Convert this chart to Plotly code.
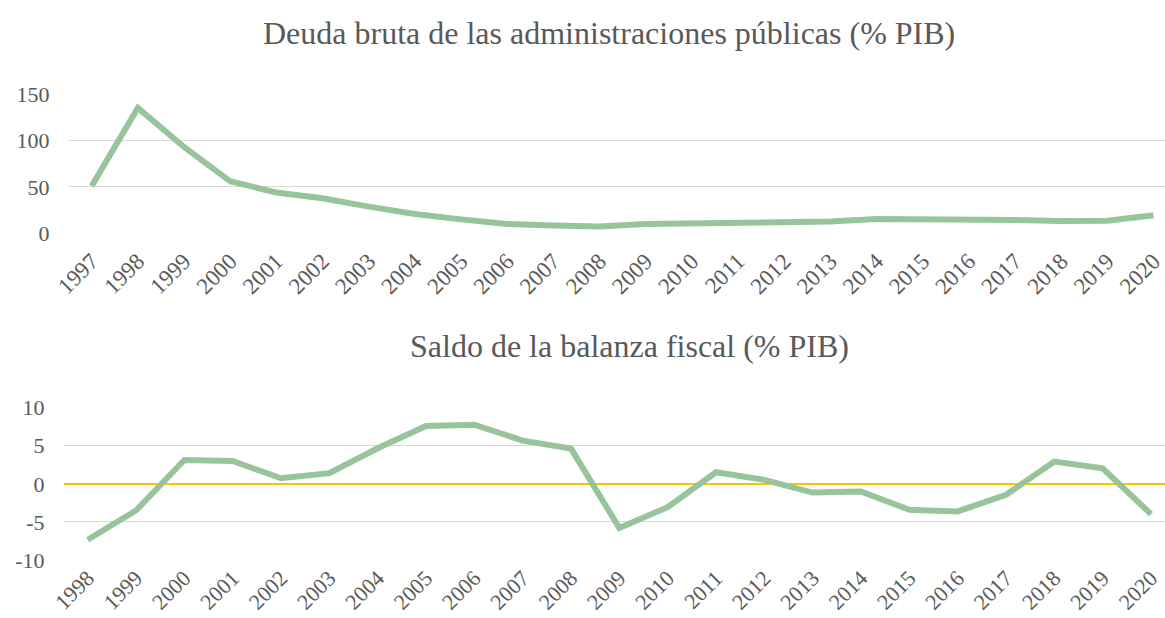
import plotly.graph_objects as go

years_debt = [str(y) for y in range(1997, 2021)]
debt = [51, 135, 93, 56, 44, 37.7, 28.7, 20.8, 15, 10, 8.3, 7.2,
        10, 10.4, 10.8, 11.5, 12.6, 15.4, 15.4, 15, 14.4, 13.3, 13.6, 19.4]

years_bal = [str(y) for y in range(1998, 2021)]
balance = [-7.34, -3.5, 3.14, 3.0, 0.74, 1.4, 4.67, 7.6, 7.77, 5.68, 4.63,
           -5.8, -3.06, 1.53, 0.52, -1.14, -1.0, -3.4, -3.62, -1.44, 2.93, 2.05, -3.97]

debt_ticks = [0, 50, 100, 150]
bal_ticks = [-10, -5, 0, 5, 10]
bal_ticktext = ["-10", "-5", "0", "5", "10"]

title_top = "Deuda bruta de las administraciones públicas (% PIB)"
title_bot = "Saldo de la balanza fiscal (% PIB)"

W, H = 1165, 618
FONT = "'Liberation Serif', 'Times New Roman', 'DejaVu Serif', serif"
TXT = "#595959"
GRID = "#d9d9d9"
LINE = "#98C49C"

def px_x(v):
    return v / W

def px_y(v):
    return 1 - v / H

fig = go.Figure()
fig.add_trace(go.Scatter(x=years_debt, y=debt, mode="lines",
                         line=dict(color=LINE, width=6), xaxis="x", yaxis="y",
                         showlegend=False, hoverinfo="x+y"))
fig.add_trace(go.Scatter(x=years_bal, y=balance, mode="lines",
                         line=dict(color=LINE, width=6), xaxis="x2", yaxis="y2",
                         showlegend=False, hoverinfo="x+y"))

ytickfont = dict(family=FONT, size=22, color=TXT)
xtickfont = dict(family=FONT, size=23, color=TXT)
xtickfont2 = dict(family=FONT, size=22, color=TXT)

fig.update_layout(
    template="none",
    width=W, height=H, autosize=False,
    margin=dict(l=0, r=0, t=0, b=0, pad=0),
    paper_bgcolor="white", plot_bgcolor="white",
    font=dict(family=FONT, color=TXT),
    xaxis=dict(type="category", domain=[px_x(68.6), 1], anchor="y",
               range=[-0.5, 23.25], tickangle=-45, tickfont=xtickfont,
               showgrid=False, showline=False, ticks="", zeroline=False,
               ticklabelstandoff=9, automargin=False),
    yaxis=dict(domain=[px_y(233.3), px_y(94)], anchor="x", range=[0, 150],
               tickvals=debt_ticks, tickfont=ytickfont,
               showgrid=True, gridcolor=GRID, gridwidth=1.3,
               zeroline=False, showline=False, ticks="", ticklabelstandoff=18,
               automargin=False),
    xaxis2=dict(type="category", domain=[px_x(63.5), 1], anchor="y2",
                range=[-0.5, 22.29], tickangle=-45, tickfont=xtickfont2,
                showgrid=False, showline=False, ticks="", zeroline=False,
                ticklabelstandoff=0, automargin=False),
    yaxis2=dict(domain=[px_y(560), px_y(407.7)], anchor="x2", range=[-10, 10],
                tickvals=bal_ticks, ticktext=bal_ticktext, tickfont=ytickfont,
                showgrid=True, gridcolor=GRID, gridwidth=1.3,
                zeroline=True, zerolinecolor="#FFC000", zerolinewidth=2,
                showline=False, ticks="", ticklabelstandoff=18,
                automargin=False),
    annotations=[
        dict(text=title_top, x=px_x(609), y=px_y(33), xref="paper", yref="paper",
             showarrow=False, xanchor="center", yanchor="middle",
             font=dict(family=FONT, size=32, color=TXT)),
        dict(text=title_bot, x=px_x(629), y=px_y(346), xref="paper", yref="paper",
             showarrow=False, xanchor="center", yanchor="middle",
             font=dict(family=FONT, size=32, color=TXT)),
    ],
)

fig.write_html("out.html", config={"displayModeBar": False},
               post_script="document.body.style.margin='0';document.body.style.overflow='hidden';")
